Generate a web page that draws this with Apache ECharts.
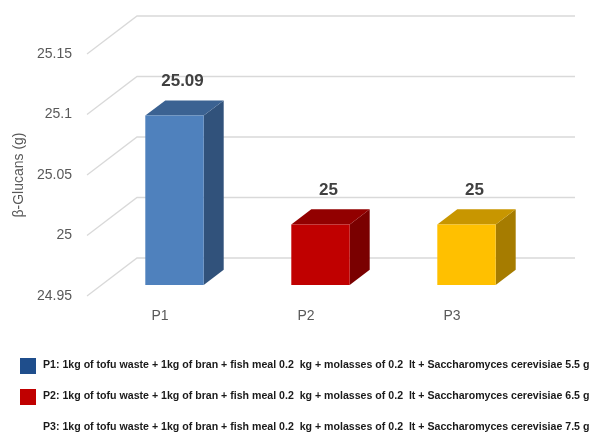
<!DOCTYPE html>
<html>
<head>
<meta charset="utf-8">
<script src="https://cdn.jsdelivr.net/npm/echarts@6/dist/echarts.min.js"></script>
<style>
  html, body { margin: 0; padding: 0; background: #ffffff; }
  #chart { width: 590px; height: 432px; }
</style>
</head>
<body>
<div id="chart"></div>
<script>
// Treatment groups and measured beta-glucan content (g)
const categories = ['P1', 'P2', 'P3'];
const values = [25.09, 25, 25];
const valueLabels = ['25.09', '25', '25'];
const yTicks = [24.95, 25, 25.05, 25.1, 25.15];
const legendTexts = [
  'P1: 1kg of tofu waste + 1kg of bran + fish meal 0.2  kg + molasses of 0.2  lt + Saccharomyces cerevisiae 5.5 g',
  'P2: 1kg of tofu waste + 1kg of bran + fish meal 0.2  kg + molasses of 0.2  lt + Saccharomyces cerevisiae 6.5 g',
  'P3: 1kg of tofu waste + 1kg of bran + fish meal 0.2  kg + molasses of 0.2  lt + Saccharomyces cerevisiae 7.5 g'
];

// Face colours for each bar: front, top, side
const palette = [
  { front: '#4f81bd', top: '#3b6292', side: '#31527b' },
  { front: '#c00000', top: '#920000', side: '#7a0000' },
  { front: '#ffc000', top: '#c89600', side: '#a67c00' }
];
const legendMarkers = ['#1f4e8c', '#c00000', null];

// Oblique depth of the plot box
const DX = 50, DY = -38;
const BAR_FRONT = 0.29, BAR_BACK = 0.69;
const Y_MIN = 24.95, Y_MAX = 25.15, Y_STEP = 0.05;

const chart = echarts.init(document.getElementById('chart'), null, { renderer: 'canvas' });

function renderGrid(params, api) {
  const cs = params.coordSys;
  const y = api.coord([0, api.value(0)])[1];
  const left = cs.x, right = cs.x + cs.width;
  return {
    type: 'polyline',
    shape: { points: [[left, y], [left + DX, y + DY], [right + DX, y + DY]] },
    style: { stroke: '#d9d9d9', lineWidth: 1.3, fill: null },
    silent: true
  };
}

function renderBar(params, api) {
  const idx = api.value(0);
  const val = api.value(1);
  const top = api.coord([idx, val]);
  const base = api.coord([idx, Y_MIN]);
  const bw = api.size([1, 0])[0] * 0.4;
  const x0 = top[0] - bw / 2 + DX * BAR_FRONT;
  const x1 = x0 + bw;
  const yt = top[1] + DY * BAR_FRONT;
  const yb = base[1] + DY * BAR_FRONT;
  const ddx = DX * (BAR_BACK - BAR_FRONT);
  const ddy = DY * (BAR_BACK - BAR_FRONT);
  const c = palette[idx];
  return {
    type: 'group',
    children: [
      {
        type: 'polygon',
        shape: { points: [[x1, yt], [x1 + ddx, yt + ddy], [x1 + ddx, yb + ddy], [x1, yb]] },
        style: { fill: c.side }
      },
      {
        type: 'polygon',
        shape: { points: [[x0, yt], [x0 + ddx, yt + ddy], [x1 + ddx, yt + ddy], [x1, yt]] },
        style: { fill: c.top }
      },
      {
        type: 'rect',
        shape: { x: x0, y: yt, width: bw, height: yb - yt },
        style: { fill: c.front }
      },
      {
        type: 'text',
        style: {
          x: x0 + bw / 2 + ddx / 2 - 2,
          y: yt + ddy / 2 - 27,
          text: valueLabels[idx],
          fill: '#404040',
          font: 'bold 17px "Liberation Sans", Arial, sans-serif',
          align: 'center',
          verticalAlign: 'middle'
        }
      }
    ]
  };
}

const legendGraphics = [];
legendTexts.forEach(function (t, i) {
  const cy = 366 + i * 31;
  if (legendMarkers[i]) {
    legendGraphics.push({
      type: 'rect',
      left: 20, top: cy - 8,
      shape: { width: 16, height: 16 },
      style: { fill: legendMarkers[i] }
    });
  }
  legendGraphics.push({
    type: 'text',
    left: 43, top: cy - 6,
    style: {
      text: t,
      fill: '#1a1a1a',
      font: 'bold 10.6px "Liberation Sans", Arial, sans-serif'
    }
  });
});

chart.setOption({
  backgroundColor: '#ffffff',
  animation: false,
  grid: { left: 87, right: 65, top: 54, bottom: 136, containLabel: false },
  xAxis: {
    type: 'category',
    data: categories,
    axisLine: { show: false },
    axisTick: { show: false },
    axisLabel: {
      color: '#595959',
      fontSize: 14,
      fontFamily: 'Liberation Sans',
      margin: 13
    },
    splitLine: { show: false }
  },
  yAxis: {
    type: 'value',
    min: Y_MIN,
    max: Y_MAX,
    interval: Y_STEP,
    name: 'β-Glucans (g)',
    nameLocation: 'middle',
    nameRotate: 90,
    nameGap: 54,
    nameTextStyle: { color: '#595959', fontSize: 14, fontFamily: 'Liberation Sans' },
    axisLine: { show: false },
    axisTick: { show: false },
    splitLine: { show: false },
    axisLabel: {
      color: '#595959',
      fontSize: 14,
      fontFamily: 'Liberation Sans',
      margin: 15,
      formatter: function (v) { return String(Math.round(v * 100) / 100); }
    }
  },
  graphic: legendGraphics,
  series: [
    {
      type: 'custom',
      renderItem: renderGrid,
      data: yTicks.map(function (v) { return [v]; }),
      encode: { y: 0 },
      clip: false,
      silent: true,
      z: 1
    },
    {
      type: 'custom',
      renderItem: renderBar,
      data: values.map(function (v, i) { return [i, v]; }),
      encode: { x: 0, y: 1 },
      clip: false,
      z: 2
    }
  ]
});
</script>
</body>
</html>
